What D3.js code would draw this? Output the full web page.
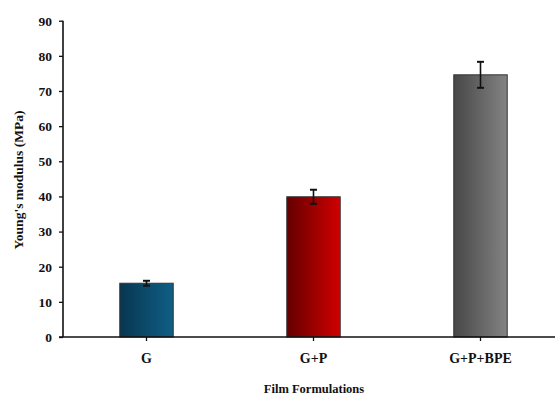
<!DOCTYPE html>
<html>
<head>
<meta charset="utf-8">
<script src="https://cdn.jsdelivr.net/npm/d3@7"></script>
<style>
  html, body { margin: 0; padding: 0; background: #fff; }
  svg { display: block; }
  text { font-family: "Liberation Serif", "Times New Roman", serif; font-weight: bold; fill: #111; }
</style>
</head>
<body>
<svg id="chart" width="555" height="396"></svg>
<script>
// Film formulations and their Young's modulus (mean ± error)
const categories = ["G", "G+P", "G+P+BPE"];
const modulus = [15.3, 39.9, 74.6];
const errors = [0.7, 2.0, 3.7];
const yTicks = [0, 10, 20, 30, 40, 50, 60, 70, 80, 90];

// Colour ramps for each bar (left -> right)
const barGradients = [
  ["#083650", "#0f5f86"],
  ["#650000", "#d00000"],
  ["#474747", "#838383"]
];

const svg = d3.select("#chart");
const margin = { left: 63, top: 20.7, bottom: 337 };

const x = d3.scaleBand()
  .domain(categories)
  .range([63, 564])
  .paddingInner(0.68)
  .paddingOuter(0.34);

const y = d3.scaleLinear()
  .domain([0, 90])
  .range([margin.bottom, margin.top]);

const defs = svg.append("defs");
barGradients.forEach((c, i) => {
  const g = defs.append("linearGradient")
    .attr("id", "grad" + i)
    .attr("x1", "0%").attr("x2", "100%")
    .attr("y1", "0%").attr("y2", "0%");
  g.append("stop").attr("offset", "0%").attr("stop-color", c[0]);
  g.append("stop").attr("offset", "100%").attr("stop-color", c[1]);
});

// Bars
svg.selectAll("rect.bar")
  .data(categories)
  .join("rect")
  .attr("class", "bar")
  .attr("x", d => x(d))
  .attr("width", x.bandwidth())
  .attr("y", (d, i) => y(modulus[i]))
  .attr("height", (d, i) => y(0) - y(modulus[i]))
  .attr("fill", (d, i) => `url(#grad${i})`)
  .attr("stroke", "#333")
  .attr("stroke-width", 1);

// Error bars
const eb = svg.selectAll("g.err")
  .data(categories)
  .join("g")
  .attr("class", "err")
  .attr("transform", d => `translate(${x(d) + x.bandwidth() / 2},0)`);
eb.append("line")
  .attr("y1", (d, i) => y(modulus[i] - errors[i]))
  .attr("y2", (d, i) => y(modulus[i] + errors[i]))
  .attr("stroke", "#111").attr("stroke-width", 1.6);
eb.append("line")
  .attr("x1", -3.5).attr("x2", 3.5)
  .attr("y1", (d, i) => y(modulus[i] + errors[i]))
  .attr("y2", (d, i) => y(modulus[i] + errors[i]))
  .attr("stroke", "#111").attr("stroke-width", 2);
eb.append("line")
  .attr("x1", -3.5).attr("x2", 3.5)
  .attr("y1", (d, i) => y(modulus[i] - errors[i]))
  .attr("y2", (d, i) => y(modulus[i] - errors[i]))
  .attr("stroke", "#111").attr("stroke-width", 2);

// Y axis
const yAxis = svg.append("g")
  .attr("transform", `translate(${margin.left},0)`)
  .call(d3.axisLeft(y).tickValues(yTicks).tickSize(4).tickPadding(7).tickFormat(d3.format("d")));
yAxis.select(".domain").attr("stroke", "#111").attr("stroke-width", 1.6)
  .attr("d", `M0,${y(90)}V${y(0)}`);
yAxis.selectAll(".tick line").attr("stroke", "#111").attr("stroke-width", 1.3);
yAxis.selectAll(".tick text")
  .style("font-family", '"Liberation Serif", serif')
  .style("font-weight", "bold").style("font-size", "13.5px").attr("fill", "#111");

// X axis
const xAxis = svg.append("g")
  .attr("transform", `translate(0,${y(0)})`)
  .call(d3.axisBottom(x).tickSize(4).tickPadding(12));
xAxis.select(".domain").attr("stroke", "#111").attr("stroke-width", 1.6)
  .attr("d", `M${margin.left - 4},0H555`);
xAxis.selectAll(".tick line").attr("stroke", "#111").attr("stroke-width", 1.3);
xAxis.selectAll(".tick text")
  .style("font-family", '"Liberation Serif", serif')
  .style("font-weight", "bold").style("font-size", "14px").attr("fill", "#111");

// Axis titles
svg.append("text")
  .attr("x", 314).attr("y", 393)
  .attr("text-anchor", "middle")
  .style("font-size", "12.5px")
  .text("Film Formulations");

svg.append("text")
  .attr("transform", "translate(23,180) rotate(-90)")
  .attr("text-anchor", "middle")
  .style("font-size", "13.5px")
  .text("Young's modulus (MPa)");
</script>
</body>
</html>
